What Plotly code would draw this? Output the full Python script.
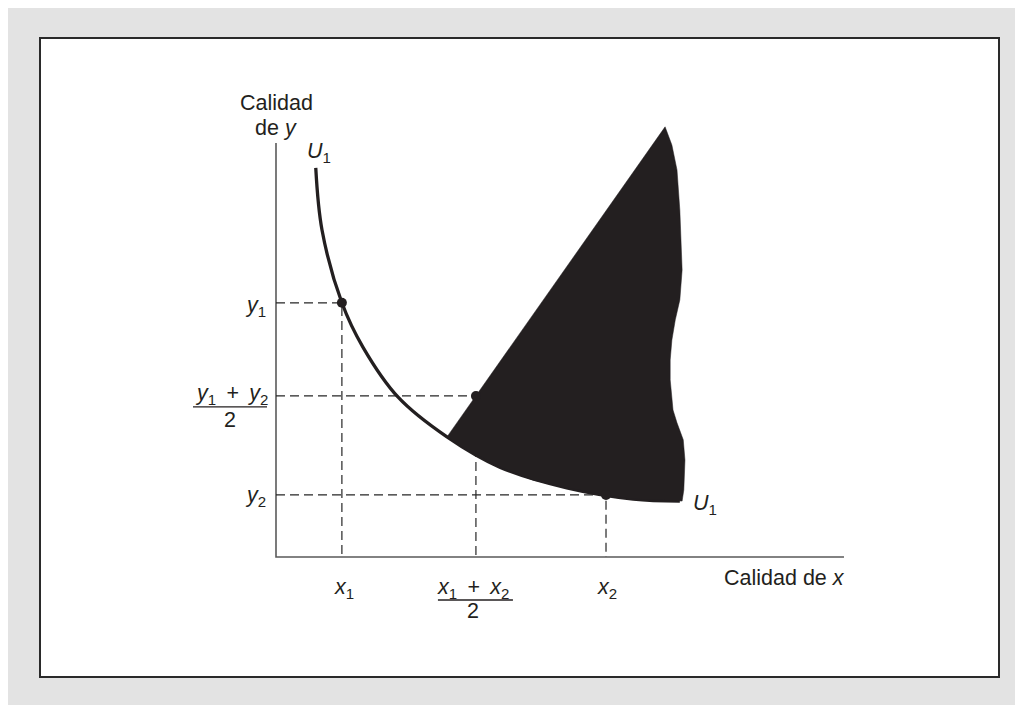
import plotly.graph_objects as go

# ---- data (axis units 0..10) ----
x_ticks = [1.16, 3.52, 5.81]          # x1, (x1+x2)/2, x2
y_ticks = [6.14, 3.89, 1.50]          # y1, (y1+y2)/2, y2
PLUS = "&nbsp;&#8201;+&nbsp;&#8201;"
x_tick_labels = ["<i>x</i><sub>1</sub>", "<i>x</i><sub>1</sub>" + PLUS + "<i>x</i><sub>2</sub>", "<i>x</i><sub>2</sub>"]
y_tick_labels = ["<i>y</i><sub>1</sub>", "<i>y</i><sub>1</sub>" + PLUS + "<i>y</i><sub>2</sub>", "<i>y</i><sub>2</sub>"]

curve_x = [0.70, 0.81, 1.16, 1.53, 2.15, 3.01, 3.94, 5.12, 6.29, 7.11]
curve_y = [9.40, 7.90, 6.14, 5.07, 3.86, 2.90, 2.17, 1.67, 1.40, 1.35]

shade_x = [3.01, 6.85, 6.97, 7.06, 7.11, 7.15, 7.11, 7.03, 6.97, 6.94, 6.94, 6.99, 7.06, 7.17,
           7.20, 7.18, 7.15, 6.29, 5.81, 5.12, 4.52, 3.94, 3.54, 3.27, 3.01]
shade_y = [2.90, 10.39, 9.95, 9.35, 8.38, 6.93, 6.21, 5.73, 5.24, 4.76, 4.28, 3.55, 3.24, 2.83,
           2.34, 1.62, 1.35, 1.40, 1.50, 1.67, 1.86, 2.17, 2.47, 2.66, 2.90]

axis_max = 10

INK = "#231f20"
FONT = "Liberation Sans, Arial, Helvetica, sans-serif"
FS = 21.5

# page body has an 8px margin, so the figure is offset by 8px
W, H = 1015, 697
L, R, T, B = 32, 24, 30, 28
X_RANGE = [-4.155, 12.729]
Y_RANGE = [-2.899, 12.536]

fig = go.Figure()

# axes
fig.add_trace(go.Scatter(x=[0, 0, axis_max], y=[axis_max, 0, 0], mode="lines",
                         line=dict(color="#5a5a5a", width=1.6), hoverinfo="skip"))

# dashed guide lines
dx_, dy_ = [], []
for xv, yv in zip(x_ticks, y_ticks):
    dx_ += [0, xv, xv, None]
    dy_ += [yv, yv, 0, None]
fig.add_trace(go.Scatter(x=dx_, y=dy_, mode="lines",
                         line=dict(color="#262626", width=1.2, dash="9px,5px"), hoverinfo="skip"))

# indifference curve
fig.add_trace(go.Scatter(x=curve_x, y=curve_y, mode="lines",
                         line=dict(color=INK, width=3.3, shape="spline", smoothing=1.0),
                         hoverinfo="skip"))

# shaded region
fig.add_trace(go.Scatter(x=shade_x, y=shade_y, mode="lines", fill="toself",
                         fillcolor=INK, line=dict(color=INK, width=0.5), hoverinfo="skip"))

# points
fig.add_trace(go.Scatter(x=x_ticks, y=y_ticks, mode="markers",
                         marker=dict(color=INK, size=10), hoverinfo="skip"))

ann = []
font = dict(family=FONT, size=FS, color=INK)


def add(text, x, y, xanchor="center", yanchor="middle", xshift=0, yshift=0):
    ann.append(dict(text=text, x=x, y=y, xref="x", yref="y", showarrow=False,
                    xanchor=xanchor, yanchor=yanchor, xshift=xshift, yshift=yshift, font=font))


# x tick labels
add(x_tick_labels[0], x_ticks[0], 0, xshift=2, yshift=-32)
add(x_tick_labels[1], x_ticks[1], 0, xshift=-3, yshift=-32)
add("2", x_ticks[1], 0, xshift=-3, yshift=-54)
add(x_tick_labels[2], x_ticks[2], 0, xshift=1, yshift=-32)

# y tick labels
add(y_tick_labels[0], 0, y_ticks[0], xanchor="right", xshift=-8, yshift=-4)
add(y_tick_labels[1], 0, y_ticks[1], xshift=-45, yshift=1)
add("2", 0, y_ticks[1], xshift=-46, yshift=-24)
add(y_tick_labels[2], 0, y_ticks[2], xanchor="right", xshift=-8, yshift=-2)

# axis titles
add("Calidad", 0, axis_max, yshift=40)
add("de <i>y</i>", 0, axis_max, yshift=15)
add("Calidad de <i>x</i>", axis_max, 0, xanchor="right", yshift=-21, xshift=3)

# curve labels
add("<i>U</i><sub>1</sub>", curve_x[0], curve_y[0], xanchor="left", xshift=-11, yshift=15)
add("<i>U</i><sub>1</sub>", curve_x[-1], curve_y[-1], xanchor="left", xshift=11, yshift=-3)

shapes = []
shapes.append(dict(type="rect", xref="paper", yref="paper", x0=-0.2, y0=-0.2, x1=1.2, y1=1.2,
                   fillcolor="#e3e3e3", line=dict(width=0), layer="below"))
shapes.append(dict(type="rect", xref="paper", yref="paper", x0=0, y0=0, x1=1, y1=1,
                   fillcolor="white", line=dict(color="#2a2a2a", width=2), layer="below"))

# fraction bars
shapes.append(dict(type="line", xref="x", yref="y", xsizemode="pixel", ysizemode="pixel",
                   xanchor=x_ticks[1], yanchor=0, x0=-38, x1=37, y0=-43, y1=-43,
                   line=dict(color=INK, width=1.3)))
shapes.append(dict(type="line", xref="x", yref="y", xsizemode="pixel", ysizemode="pixel",
                   xanchor=0, yanchor=y_ticks[1], x0=-83, x1=-9, y0=-11, y1=-11,
                   line=dict(color=INK, width=1.3)))

fig.update_layout(
    width=W, height=H,
    margin=dict(l=L, r=R, t=T, b=B),
    paper_bgcolor="#e3e3e3", plot_bgcolor="rgba(0,0,0,0)",
    showlegend=False,
    xaxis=dict(range=X_RANGE, visible=False, fixedrange=True),
    yaxis=dict(range=Y_RANGE, visible=False, fixedrange=True),
    annotations=ann, shapes=shapes,
)

fig.write_html("out.html")
